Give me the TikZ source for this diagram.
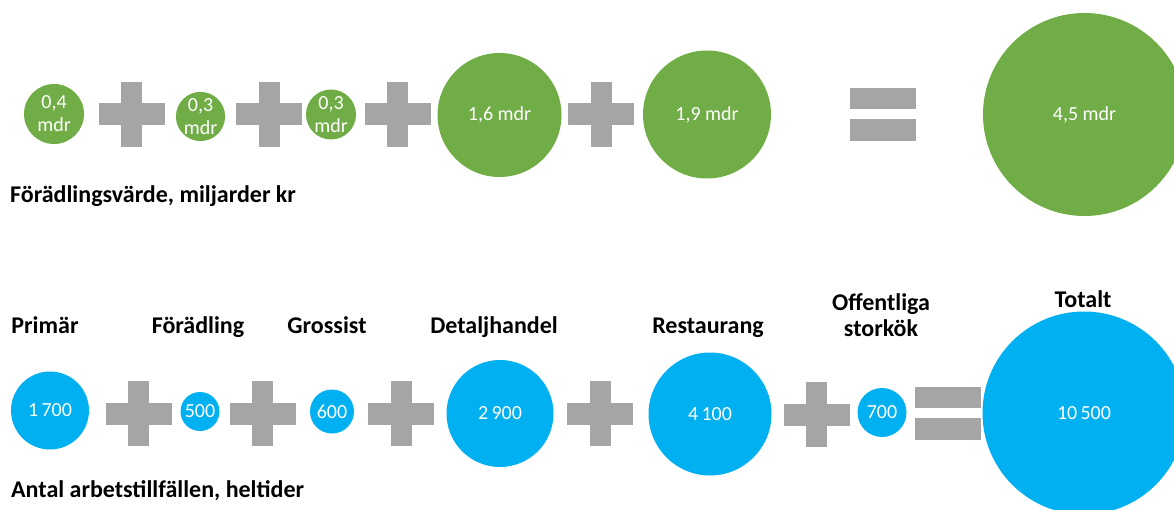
\documentclass[tikz,border=0pt]{standalone}
\usepackage{fontspec}
\setmainfont{Carlito}
\definecolor{vgreen}{HTML}{70AD47}
\definecolor{vblue}{HTML}{00B0F0}
\definecolor{vgray}{HTML}{A5A5A5}
\tikzset{
  bub/.style={circle, inner sep=0pt, text=white, align=center, font=\fontsize{20}{23}\selectfont},
  gbub/.style={bub, fill=vgreen},
  bbub/.style={bub, fill=vblue},
  lbl/.style={inner sep=0pt, font=\fontsize{24}{26}\selectfont\bfseries, align=center},
  plussign/.pic={\fill[vgray] (-33,-11) rectangle (33,11); \fill[vgray] (-10.5,-32.5) rectangle (10.5,32.5);},
  eqsign/.pic={\fill[vgray] (-33,-26.5) rectangle (33,-5.5); \fill[vgray] (-33,4.5) rectangle (33,26.5);}
}
\begin{document}
\begin{tikzpicture}[x=1pt,y=-1pt]
\useasboundingbox (0,0) rectangle (1174,510);
\clip (0,0) rectangle (1174,510);
% top row
\node[gbub, minimum size=60pt] (g1) at (54,114) {0,4\\mdr};
\pic at (131.5,114.5) {plussign};
\node[gbub, minimum size=49pt] (g2) at (200.5,116.5) {0,3\\mdr};
\pic at (269,114.5) {plussign};
\node[gbub, minimum size=50pt] (g3) at (331,114.5) {0,3\\mdr};
\pic at (397.5,114.5) {plussign};
\node[gbub, minimum size=124pt] (g4) at (499.5,115) {1,6 mdr};
\pic at (601,114.5) {plussign};
\node[gbub, minimum size=128pt] (g5) at (707,114.5) {1,9 mdr};
\pic at (882.5,114.5) {eqsign};
\node[gbub, minimum size=203pt] (g6) at (1084.5,114.5) {4,5 mdr};
\node[lbl, anchor=base west] (t1) at (10,203) {Förädlingsvärde, miljarder kr};
% bottom row
\node[lbl, anchor=base] (l1) at (45,334) {Primär};
\node[lbl, anchor=base] (l2) at (198,334) {Förädling};
\node[lbl, anchor=base] (l3) at (327,334) {Grossist};
\node[lbl, anchor=base] (l4) at (494,334) {Detaljhandel};
\node[lbl, anchor=base] (l5) at (708,334) {Restaurang};
\node[lbl] (l6) at (881,315) {Offentliga\\storkök};
\node[lbl, anchor=base] (l7) at (1083,308) {Totalt};
\node[bbub, minimum size=78pt] (b1) at (50,410.5) {1\,700};
\pic at (138.5,413.5) {plussign};
\node[bbub, minimum size=39pt] (b2) at (200,411.5) {500};
\pic at (262.5,413.5) {plussign};
\node[bbub, minimum size=44pt] (b3) at (332,411.5) {600};
\pic at (401,413.5) {plussign};
\node[bbub, minimum size=107pt] (b4) at (500,413.5) {2\,900};
\pic at (600,413.5) {plussign};
\node[bbub, minimum size=123pt] (b5) at (710,414) {4\,100};
\pic at (816.5,414.5) {plussign};
\node[bbub, minimum size=49pt] (b6) at (882,412.5) {700};
\pic at (947.5,413) {eqsign};
\node[bbub, minimum size=203pt] (b7) at (1084,413) {10\,500};
\node[lbl, anchor=base west] (t2) at (11,497) {Antal arbetstillfällen, heltider};
\end{tikzpicture}
\end{document}
